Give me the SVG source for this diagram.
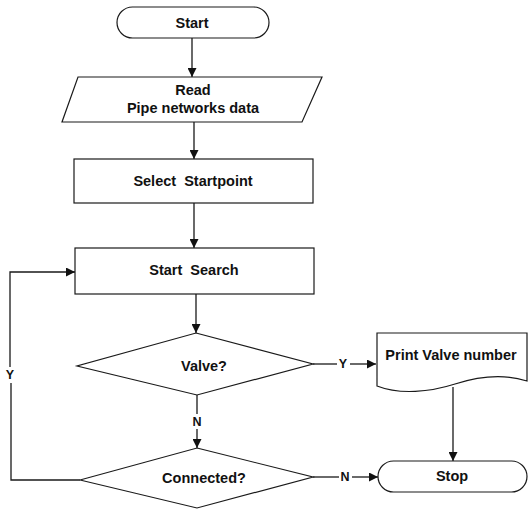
<svg xmlns="http://www.w3.org/2000/svg" width="528" height="510" viewBox="0 0 528 510">
  <style>
    .shape { fill: #ffffff; stroke: #1a1a1a; stroke-width: 1.2; }
    .wire { fill: none; stroke: #1a1a1a; stroke-width: 1.3; }
    .label { font-family: "Liberation Sans", Arial, sans-serif; font-size: 14.5px; font-weight: bold; fill: #111111; text-anchor: middle; dominant-baseline: central; }
    .tag { font-family: "Liberation Sans", Arial, sans-serif; font-size: 12.5px; font-weight: bold; fill: #111111; text-anchor: middle; dominant-baseline: central; }
  </style>
  <defs>
    <marker id="arrow" viewBox="0 0 10 10" refX="10" refY="5" markerWidth="9" markerHeight="9" markerUnits="userSpaceOnUse" orient="auto">
      <path d="M0,0 L10,5 L0,10 z" fill="#111111"/>
    </marker>
  </defs>

  <rect width="528" height="510" fill="#ffffff"/>

  <!-- connectors -->
  <g id="connectors">
    <line class="wire" x1="192" y1="38" x2="192" y2="77" marker-end="url(#arrow)"/>
    <line class="wire" x1="194" y1="122" x2="194" y2="159" marker-end="url(#arrow)"/>
    <line class="wire" x1="194" y1="203" x2="194" y2="248" marker-end="url(#arrow)"/>
    <line class="wire" x1="196" y1="294" x2="196" y2="333" marker-end="url(#arrow)"/>
    <!-- Valve? yes -->
    <line class="wire" x1="313" y1="364" x2="337" y2="364"/>
    <line class="wire" x1="350" y1="364" x2="376" y2="364" marker-end="url(#arrow)"/>
    <text class="tag" x="343" y="364">Y</text>
    <!-- Valve? no -->
    <line class="wire" x1="197" y1="395" x2="197" y2="414"/>
    <line class="wire" x1="197" y1="429" x2="197" y2="448" marker-end="url(#arrow)"/>
    <text class="tag" x="197" y="422">N</text>
    <!-- Connected? no -->
    <line class="wire" x1="313" y1="477" x2="339" y2="477"/>
    <line class="wire" x1="352" y1="477" x2="378" y2="477" marker-end="url(#arrow)"/>
    <text class="tag" x="345" y="477">N</text>
    <!-- Connected? yes: loop back -->
    <polyline class="wire" points="80,480 11,480 11,383"/>
    <polyline class="wire" points="10,367 10,272 75,272" marker-end="url(#arrow)"/>
    <text class="tag" x="10" y="375">Y</text>
    <!-- printout to stop -->
    <line class="wire" x1="453" y1="387" x2="453" y2="461" marker-end="url(#arrow)"/>
  </g>

  <g id="start">
    <rect class="shape" x="117" y="7" width="152" height="31" rx="15.5" ry="15.5"/>
    <text class="label" x="192" y="23">Start</text>
  </g>

  <g id="read">
    <polygon class="shape" points="78,77 322,77 302,122 62,122"/>
    <text class="label" x="193" y="90">Read</text>
    <text class="label" x="193" y="108">Pipe networks data</text>
  </g>

  <g id="select">
    <rect class="shape" x="74" y="159" width="239" height="44"/>
    <text class="label" x="193" y="181" xml:space="preserve">Select  Startpoint</text>
  </g>

  <g id="search">
    <rect class="shape" x="75" y="248" width="239" height="46"/>
    <text class="label" x="194" y="270" xml:space="preserve">Start  Search</text>
  </g>

  <g id="valve">
    <polygon class="shape" points="196,333 313,364 197,395 77,366"/>
    <text class="label" x="204" y="366">Valve?</text>
  </g>

  <g id="connected">
    <polygon class="shape" points="197,448 313,477 197,508 80,480"/>
    <text class="label" x="204" y="478">Connected?</text>
  </g>

  <g id="print">
    <path class="shape" d="M377,333 L527,333 L527,381 C505,374 480,376 455,384 C430,392 400,395 377,386 Z"/>
    <text class="label" x="451" y="355">Print Valve number</text>
  </g>

  <g id="stop">
    <rect class="shape" x="378" y="461" width="149" height="31" rx="15.5" ry="15.5"/>
    <text class="label" x="452" y="476">Stop</text>
  </g>
</svg>
